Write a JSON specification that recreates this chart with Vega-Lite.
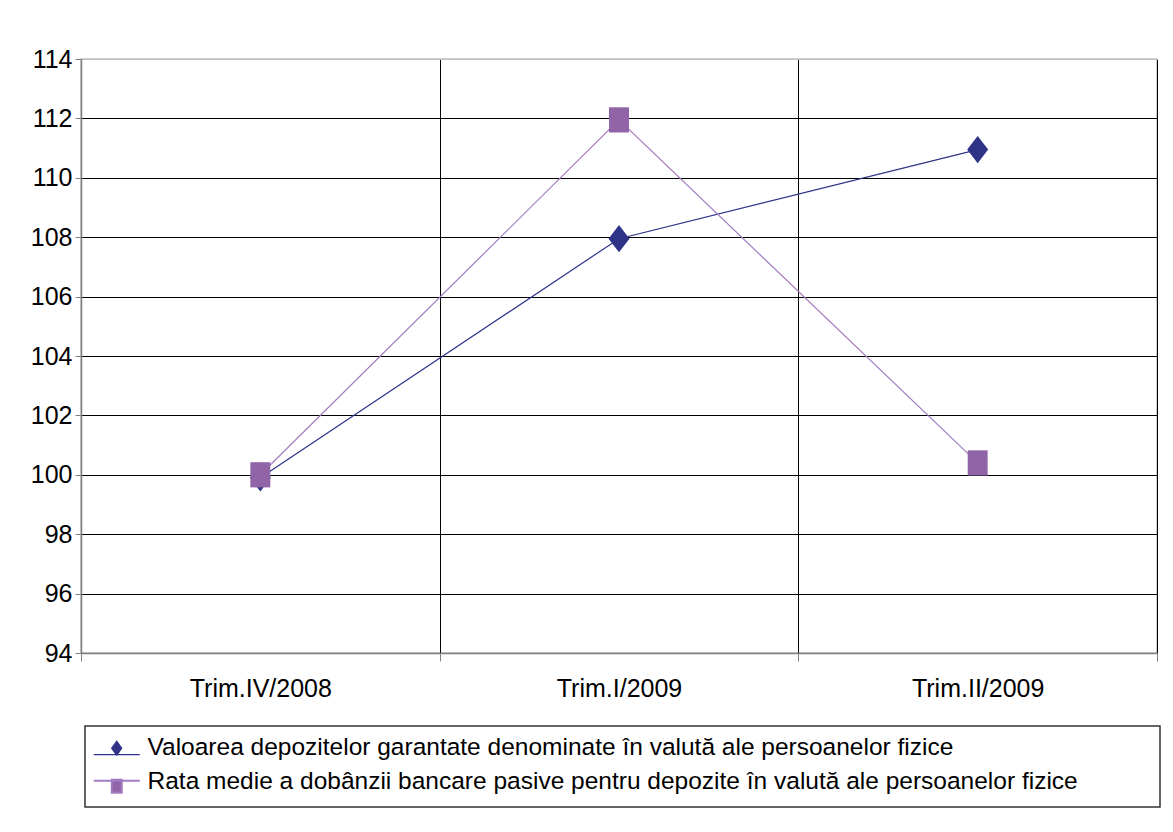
{
  "$schema": "https://vega.github.io/schema/vega-lite/v6.json",
  "width": 1076,
  "height": 594,
  "autosize": {"type": "none"},
  "padding": {"left": 81, "top": 59, "right": 16, "bottom": 179},
  "background": "white",
  "config": {
    "font": "Liberation Sans",
    "view": {"stroke": "#c0c0c0", "strokeWidth": 1.5}
  },
  "data": {
    "values": [
      {"q": "Trim.IV/2008", "series": "Valoarea depozitelor garantate denominate în valută ale persoanelor  fizice", "value": 99.9},
      {"q": "Trim.I/2009", "series": "Valoarea depozitelor garantate denominate în valută ale persoanelor  fizice", "value": 107.95},
      {"q": "Trim.II/2009", "series": "Valoarea depozitelor garantate denominate în valută ale persoanelor  fizice", "value": 110.95},
      {"q": "Trim.IV/2008", "series": "Rata medie a dobânzii bancare pasive pentru depozite în valută ale persoanelor fizice", "value": 100},
      {"q": "Trim.I/2009", "series": "Rata medie a dobânzii bancare pasive pentru depozite în valută ale persoanelor fizice", "value": 111.95},
      {"q": "Trim.II/2009", "series": "Rata medie a dobânzii bancare pasive pentru depozite în valută ale persoanelor fizice", "value": 100.4}
    ]
  },
  "encoding": {
    "x": {
      "field": "q",
      "type": "nominal",
      "sort": ["Trim.IV/2008", "Trim.I/2009", "Trim.II/2009"],
      "scale": {"paddingInner": 0, "paddingOuter": 0},
      "axis": {
        "title": null,
        "labelAngle": 0,
        "labelFontSize": 25,
        "labelColor": "black",
        "labelPadding": 15,
        "tickBand": "extent",
        "tickSize": 8,
        "tickColor": "#808080",
        "domainColor": "#808080",
        "domainWidth": 1.5,
        "grid": true,
        "gridColor": "black",
        "gridWidth": 1
      }
    },
    "y": {
      "field": "value",
      "type": "quantitative",
      "scale": {"domain": [94, 114], "zero": false, "nice": false},
      "axis": {
        "title": null,
        "values": [94, 96, 98, 100, 102, 104, 106, 108, 110, 112, 114],
        "labelFontSize": 25,
        "labelColor": "black",
        "labelPadding": 3,
        "tickSize": 6,
        "tickColor": "#808080",
        "domainColor": "#808080",
        "domainWidth": 1.5,
        "grid": true,
        "gridColor": {"condition": {"test": "datum.value == 114", "value": "#c0c0c0"}, "value": "black"},
        "gridWidth": 1
      }
    }
  },
  "layer": [
    {
      "mark": {"type": "line", "strokeWidth": 1.2},
      "encoding": {
        "color": {
          "field": "series",
          "type": "nominal",
          "scale": {
            "domain": [
              "Valoarea depozitelor garantate denominate în valută ale persoanelor  fizice",
              "Rata medie a dobânzii bancare pasive pentru depozite în valută ale persoanelor fizice"
            ],
            "range": ["#2e3388", "#a27cc2"]
          },
          "legend": {
            "title": "\u2800\u2800\u2800\u2800",
            "titleOrient": "right",
            "titleFontSize": 23.5,
            "titlePadding": 0,
            "orient": "none",
            "legendX": 4,
            "legendY": 667,
            "padding": 10,
            "strokeColor": "#333333",
            "labelFontSize": 24.5,
            "labelColor": "black",
            "labelLimit": 2000,
            "labelOffset": 28,
            "rowPadding": 8.5,
            "symbolSize": 441,
            "symbolType": "stroke",
            "encode": {
              "legend": {"update": {"strokeWidth": {"value": 1.5}}},
              "symbols": {
                "update": {
                  "shape": {"signal": "datum.index === 0 ? 'M-1.29,0.6H3.1M0.9,-0.67L1.38,0L0.9,0.67L0.42,0Z' : 'M-1.29,-0.1H3.1M0.43,-0.2H1.38V1.05H0.43Z'"},
                  "fill": {"signal": "datum.index === 0 ? '#2e3388' : '#9164a8'"},
                  "stroke": {"signal": "datum.index === 0 ? '#2e3388' : '#c8aede'"},
                  "strokeWidth": {"signal": "datum.index === 0 ? 1.2 : 2"},
                  "opacity": {"value": 1},
                  "fillOpacity": {"value": 1}
                }
              }
            }
          }
        }
      }
    },
    {
      "transform": [{"filter": {"field": "series", "equal": "Valoarea depozitelor garantate denominate în valută ale persoanelor  fizice"}}],
      "mark": {"type": "point", "filled": true, "size": 441, "opacity": 1, "strokeWidth": 0, "color": "#2e3388", "shape": "M0,-1.3L1,0L0,1.3L-1,0Z"},
      "encoding": {}
    },
    {
      "transform": [{"filter": {"field": "series", "equal": "Rata medie a dobânzii bancare pasive pentru depozite în valută ale persoanelor fizice"}}],
      "mark": {"type": "point", "filled": true, "size": 441, "opacity": 1, "strokeWidth": 0, "color": "#9164a8", "shape": "M-0.95,-1.2H0.95V1.2H-0.95Z"},
      "encoding": {}
    }
  ]
}
